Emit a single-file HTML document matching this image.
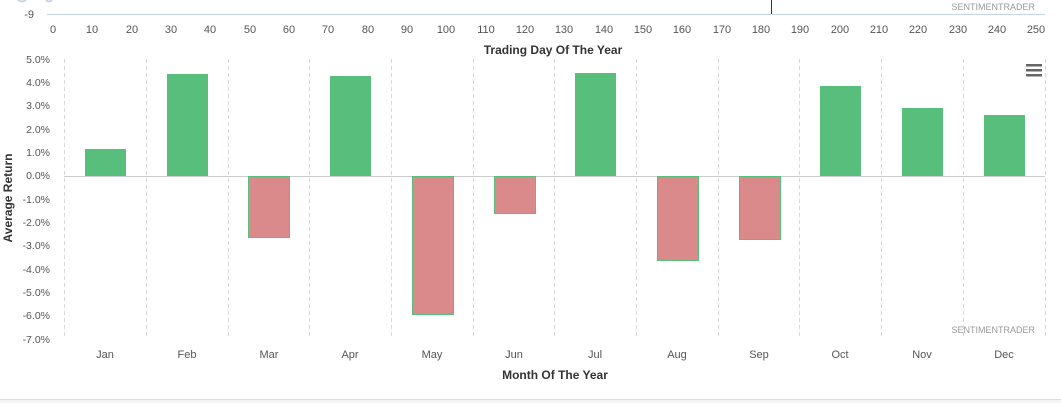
<!DOCTYPE html>
<html><head><style>
body{margin:0;width:1061px;height:403px;overflow:hidden;background:#fff;font-family:"Liberation Sans",sans-serif;}
</style></head><body>
<svg width="1061" height="403" xmlns="http://www.w3.org/2000/svg" font-family="Liberation Sans, sans-serif">
<rect x="0" y="399" width="1061" height="4" fill="#f4f4f4"/>
<line x1="0" y1="399.5" x2="1061" y2="399.5" stroke="#ddd"/>
<path d="M18 0 Q22 3 26 0 M46 0 Q49 3 52 0" stroke="#c8d4e4" stroke-width="2" fill="none"/>
<line x1="47" y1="14.5" x2="1045" y2="14.5" stroke="#c6d3e8" stroke-width="1"/>
<line x1="771.5" y1="0" x2="771.5" y2="14" stroke="#1a4d1a" stroke-width="1"/>
<text x="34" y="18" font-size="11" fill="#555" text-anchor="end">-9</text>
<text x="1035" y="10" font-size="9" fill="#999" text-anchor="end">SENTIMENTRADER</text>
<g font-size="11" fill="#555" text-anchor="middle">
<text x="53" y="33">0</text><text x="92" y="33">10</text><text x="132" y="33">20</text><text x="171" y="33">30</text><text x="210" y="33">40</text><text x="250" y="33">50</text><text x="289" y="33">60</text><text x="328" y="33">70</text><text x="368" y="33">80</text><text x="407" y="33">90</text><text x="446" y="33">100</text><text x="486" y="33">110</text><text x="525" y="33">120</text><text x="564" y="33">130</text><text x="604" y="33">140</text><text x="643" y="33">150</text><text x="682" y="33">160</text><text x="722" y="33">170</text><text x="761" y="33">180</text><text x="800" y="33">190</text><text x="840" y="33">200</text><text x="879" y="33">210</text><text x="918" y="33">220</text><text x="958" y="33">230</text><text x="997" y="33">240</text><text x="1036" y="33">250</text>
</g>
<text x="553" y="54" font-size="12" font-weight="bold" fill="#333" text-anchor="middle">Trading Day Of The Year</text>
<g stroke="#d8d8d8" stroke-dasharray="4,3">
<line x1="64.5" y1="59" x2="64.5" y2="336"/><line x1="146.5" y1="59" x2="146.5" y2="336"/><line x1="228.5" y1="59" x2="228.5" y2="336"/><line x1="309.5" y1="59" x2="309.5" y2="336"/><line x1="391.5" y1="59" x2="391.5" y2="336"/><line x1="473.5" y1="59" x2="473.5" y2="336"/><line x1="554.5" y1="59" x2="554.5" y2="336"/><line x1="636.5" y1="59" x2="636.5" y2="336"/><line x1="718.5" y1="59" x2="718.5" y2="336"/><line x1="799.5" y1="59" x2="799.5" y2="336"/><line x1="881.5" y1="59" x2="881.5" y2="336"/><line x1="963.5" y1="59" x2="963.5" y2="336"/><line x1="1045.5" y1="59" x2="1045.5" y2="336"/>
</g>
<line x1="64" y1="176.5" x2="1045" y2="176.5" stroke="#ccc"/>
<g font-size="10.5" fill="#555" text-anchor="end">
<text x="50" y="63">5.0%</text><text x="50" y="86">4.0%</text><text x="50" y="109">3.0%</text><text x="50" y="133">2.0%</text><text x="50" y="156">1.0%</text><text x="50" y="179">0.0%</text><text x="50" y="203">-1.0%</text><text x="50" y="226">-2.0%</text><text x="50" y="249">-3.0%</text><text x="50" y="273">-4.0%</text><text x="50" y="296">-5.0%</text><text x="50" y="319">-6.0%</text><text x="50" y="343">-7.0%</text>
</g>
<text transform="translate(12,198) rotate(-90)" font-size="12" font-weight="bold" fill="#333" text-anchor="middle">Average Return</text>
<g fill="#57bf7b">
<rect x="85" y="149" width="41" height="27"/><rect x="167" y="74" width="41" height="102"/><rect x="330" y="76" width="41" height="100"/><rect x="575" y="73" width="41" height="103"/><rect x="820" y="86" width="41" height="90"/><rect x="902" y="108" width="41" height="68"/><rect x="984" y="115" width="41" height="61"/>
</g>
<g fill="#da8a8a" stroke="#57bf7b" stroke-width="1">
<rect x="248.5" y="176.5" width="41" height="61"/><rect x="412.5" y="176.5" width="41" height="138"/><rect x="494.5" y="176.5" width="41" height="37"/><rect x="657.5" y="176.5" width="41" height="84"/><rect x="739.5" y="176.5" width="41" height="63"/>
</g>
<g fill="#666"><rect x="1026" y="64" width="16" height="2.5"/><rect x="1026" y="69" width="16" height="2.5"/><rect x="1026" y="74" width="16" height="2.5"/></g>
<text x="1035" y="333" font-size="9" fill="#999" text-anchor="end">SENTIMENTRADER</text>
<g font-size="11" fill="#555" text-anchor="middle">
<text x="105" y="358">Jan</text><text x="187" y="358">Feb</text><text x="269" y="358">Mar</text><text x="350" y="358">Apr</text><text x="432" y="358">May</text><text x="514" y="358">Jun</text><text x="595" y="358">Jul</text><text x="677" y="358">Aug</text><text x="759" y="358">Sep</text><text x="840" y="358">Oct</text><text x="922" y="358">Nov</text><text x="1004" y="358">Dec</text>
</g>
<text x="555" y="379" font-size="12" font-weight="bold" fill="#333" text-anchor="middle">Month Of The Year</text>
</svg>
</body></html>
